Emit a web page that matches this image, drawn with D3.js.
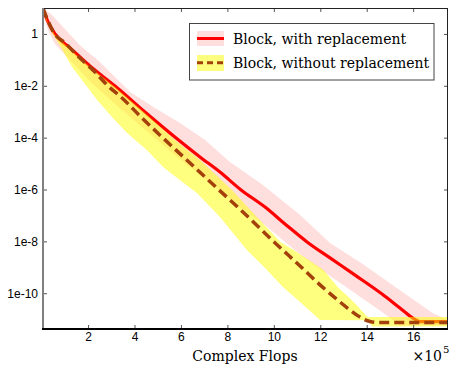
<!DOCTYPE html>
<html><head><meta charset="utf-8">
<script src="https://cdn.jsdelivr.net/npm/d3@7/dist/d3.min.js"></script>
<style>body{margin:0;background:#fff}svg{display:block}</style>
</head><body><svg id="c" width="450" height="366"></svg>
<script>
// ---- data (x in units of 1e5 complex flops) ----
const xTicks = [2, 4, 6, 8, 10, 12, 14, 16];
const yTicks = [1, 1e-2, 1e-4, 1e-6, 1e-8, 1e-10];
const yTickLabels = ["1", "1e-2", "1e-4", "1e-6", "1e-8", "1e-10"];
const seriesNames = ["Block, with replacement", "Block, without replacement"];

// median curve, with replacement
const withX   = [0.06, 0.275, 0.577, 1.22, 2.08, 3.16, 4.45, 5.79, 6.82, 7.68, 8.59, 9.62, 10.48, 11.43, 12.42, 13.5, 14.66, 15.43, 15.99, 16.29, 17.5];
const withY   = [9.5, 2.9, 1.0, 0.29, 0.058, 0.0098, 9.8e-4, 9.7e-5, 1.8e-5, 4.7e-6, 9.6e-7, 2.1e-7, 4.7e-8, 9.5e-9, 2.3e-9, 5.0e-10, 9.3e-11, 2.7e-11, 1.1e-11, 8.0e-12, 8.0e-12];
// band, with replacement
const withHiX = [0.06, 0.45, 0.88, 1.65, 2.51, 3.81, 4.88, 5.96, 7.04, 8.11, 9.53, 11.13, 12.42, 13.84, 15.43, 16.85, 17.41, 17.5];
const withHi  = [10, 5.4, 2.0, 0.37, 0.083, 0.0058, 1.4e-3, 3.7e-4, 8.1e-5, 1.15e-5, 1.5e-6, 1.04e-7, 8.6e-9, 1.3e-9, 1.3e-10, 1.7e-11, 1.02e-11, 1.0e-11];
const withLoX = [0.08, 0.275, 0.577, 1.22, 2.08, 3.16, 4.45, 5.79, 6.82, 7.68, 8.59, 9.62, 10.48, 11.43, 12.42, 13.5, 14.66, 15.43, 17.5];
const withLo  = [7.6, 1.4, 0.41, 0.099, 0.015, 0.002, 2.0e-4, 1.96e-5, 3.6e-6, 9.6e-7, 1.9e-7, 4.3e-8, 9.5e-9, 1.9e-9, 4.6e-10, 1.0e-10, 1.9e-11, 5.7e-12, 5.7e-12];

// median curve, without replacement
const woX   = [0.06, 0.275, 0.53, 1.01, 1.65, 2.3, 2.82, 3.51, 4.24, 5.23, 6.39, 7.64, 8.76, 10.01, 11.13, 11.99, 12.64, 13.28, 13.71, 14.14, 14.57, 17.5];
const woY   = [9.5, 3.2, 1.1, 0.45, 0.118, 0.034, 0.0107, 0.0031, 6.8e-4, 9.7e-5, 1.05e-5, 9.6e-7, 1.14e-7, 9.5e-9, 1.12e-9, 2.1e-10, 6.6e-11, 2.25e-11, 1.2e-11, 8.1e-12, 7.4e-12, 7.4e-12];
// band, without replacement
const woHiX = [0.06, 0.275, 0.577, 1.22, 2.08, 3.16, 4.45, 5.79, 6.82, 8.2, 9.23, 10.29, 10.85, 12.14, 12.75, 13.44, 14.04, 17.5];
const woHi  = [10, 2.6, 0.91, 0.26, 0.053, 0.009, 8.9e-4, 7.4e-5, 1.37e-5, 9.6e-7, 9.5e-8, 9.5e-9, 4.6e-9, 7.9e-10, 1.74e-10, 4.6e-11, 1.2e-11, 1.2e-11];
const woLoX = [0.06, 0.19, 0.45, 0.8, 1.31, 1.87, 2.39, 3.03, 3.68, 4.54, 5.23, 5.96, 6.69, 7.68, 8.84, 9.62, 10.39, 11.13, 11.99, 14.04, 14.23, 17.5];
const woLo  = [9.1, 3.4, 1.09, 0.34, 0.053, 0.0117, 2.8e-3, 6.3e-4, 1.5e-4, 3.3e-5, 7.4e-6, 2.3e-6, 7.3e-7, 8.7e-8, 4.6e-9, 9.4e-10, 1.74e-10, 4.6e-11, 9.3e-12, 9.1e-12, 5.2e-12, 5.2e-12];

// ---- layout ----
const L = 43, R = 448, T = 8, B = 329;
const svg = d3.select("#c");
const x = d3.scaleLinear().domain([0.06, 17.5]).range([L, R]);
const y = d3.scaleLog().domain([10, 4.17e-12]).range([T, B]);

svg.append("defs").append("clipPath").attr("id", "clip")
  .append("rect").attr("x", L).attr("y", T).attr("width", R - L).attr("height", B - T);

const line = d3.line().x(d => x(d[0])).y(d => y(d[1]));
const smooth = d3.line().x(d => x(d[0])).y(d => y(d[1])).curve(d3.curveMonotoneX);
const zip = (xs, ys) => xs.map((v, i) => [v, ys[i]]);
const band = (hx, h, lx, l) => zip(hx, h).concat(zip(lx, l).reverse());

const g = svg.append("g").attr("clip-path", "url(#clip)");
g.append("path").attr("d", line(band(withHiX, withHi, withLoX, withLo)) + "Z")
  .attr("fill", "#ffdede");
g.append("path").attr("d", smooth(zip(withX, withY)))
  .attr("fill", "none").attr("stroke", "#ff0000").attr("stroke-width", 3.2)
  .attr("stroke-linejoin", "round");
g.append("path").attr("d", line(band(woHiX, woHi, woLoX, woLo)) + "Z")
  .attr("fill", "#ffff00").attr("fill-opacity", 0.5);
g.append("path").attr("d", smooth(zip(woX, woY)))
  .attr("fill", "none").attr("stroke", "#a3400c").attr("stroke-width", 3.5)
  .attr("stroke-dasharray", "10,5");

// ---- axes ----
const tickFont = "'Liberation Sans', Arial, sans-serif";
const ax = svg.append("g").attr("transform", `translate(${L},0)`)
  .call(d3.axisLeft(y).tickValues(yTicks).tickFormat((d, i) => yTickLabels[i])
        .tickSizeInner(-4).tickSizeOuter(0).tickPadding(5));
const bx = svg.append("g").attr("transform", `translate(0,${B})`)
  .call(d3.axisBottom(x).tickValues(xTicks).tickFormat(d3.format("d"))
        .tickSizeInner(-4).tickSizeOuter(0).tickPadding(3));
const tx = svg.append("g").attr("transform", `translate(0,${T})`)
  .call(d3.axisTop(x).tickValues(xTicks).tickFormat("").tickSizeInner(-4).tickSizeOuter(0));
const rx = svg.append("g").attr("transform", `translate(${R},0)`)
  .call(d3.axisRight(y).tickValues(yTicks).tickFormat("").tickSizeInner(-4).tickSizeOuter(0));
[ax, bx, tx, rx].forEach(a => {
  a.select(".domain").remove();
  a.selectAll(".tick line").attr("stroke", "#555").attr("stroke-width", 1);
  a.selectAll("text").attr("font-family", tickFont).attr("font-size", 12).attr("fill", "#000");
});
// frame
svg.append("line").attr("x1", L).attr("x2", R).attr("y1", T + 0.5).attr("y2", T + 0.5)
  .attr("stroke", "#222").attr("stroke-width", 1);
svg.append("line").attr("x1", R - 0.5).attr("x2", R - 0.5).attr("y1", T).attr("y2", B)
  .attr("stroke", "#222").attr("stroke-width", 1);
svg.append("line").attr("x1", L).attr("x2", L).attr("y1", T).attr("y2", B + 1)
  .attr("stroke", "#808080").attr("stroke-width", 2);
svg.append("line").attr("x1", L - 1).attr("x2", R).attr("y1", B).attr("y2", B)
  .attr("stroke", "#000").attr("stroke-width", 2);

// axis title + multiplier
const serif = "'DejaVu Serif', serif";
svg.append("text").attr("x", 245).attr("y", 361).attr("text-anchor", "middle")
  .attr("font-family", serif).attr("font-size", 14).text("Complex Flops");
svg.append("text").attr("x", 442).attr("y", 361).attr("text-anchor", "end")
  .attr("font-family", serif).attr("font-size", 14).text("×10");
svg.append("text").attr("x", 443).attr("y", 353).attr("font-family", serif)
  .attr("font-size", 10).text("5");

// ---- legend ----
const lg = svg.append("g");
lg.append("rect").attr("x", 189.5).attr("y", 23.5).attr("width", 244.5).attr("height", 56.5)
  .attr("fill", "#fff").attr("stroke", "#444").attr("stroke-width", 1);
lg.append("rect").attr("x", 197).attr("y", 31).attr("width", 27).attr("height", 15).attr("fill", "#ffdede");
lg.append("line").attr("x1", 197).attr("x2", 224).attr("y1", 38.5).attr("y2", 38.5)
  .attr("stroke", "#ff0000").attr("stroke-width", 3);
lg.append("rect").attr("x", 197).attr("y", 55).attr("width", 27).attr("height", 16)
  .attr("fill", "#ffff00").attr("fill-opacity", 0.5);
lg.append("line").attr("x1", 197).attr("x2", 224).attr("y1", 62.7).attr("y2", 62.7)
  .attr("stroke", "#a3400c").attr("stroke-width", 3).attr("stroke-dasharray", "6,4");
lg.selectAll("text.lab").data(seriesNames).join("text").attr("class", "lab")
  .attr("x", 233).attr("y", (d, i) => 44 + i * 24)
  .attr("font-family", serif).attr("font-size", 14).text(d => d);
</script></body></html>
